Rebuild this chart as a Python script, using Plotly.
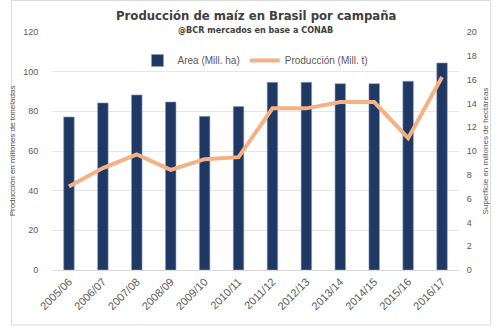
import plotly.graph_objects as go

campaigns = ["2005/06", "2006/07", "2007/08", "2008/09", "2009/10", "2010/11",
             "2011/12", "2012/13", "2013/14", "2014/15", "2015/16", "2016/17"]
area_mill_ha = [12.86, 14.04, 14.71, 14.12, 12.91, 13.73, 15.77, 15.77, 15.66, 15.66, 15.86, 17.4]
produccion_mill_t = [42.1, 51.4, 58.3, 50.5, 55.9, 56.9, 81.5, 81.5, 84.7, 84.7, 66.5, 97.3]

left_ticks = [0, 20, 40, 60, 80, 100, 120]
right_ticks = [0, 2, 4, 6, 8, 10, 12, 14, 16, 18, 20]

gray = "#595959"
W, H = 500, 326
L, R, T, B = 42, 35, 32, 56
plot_h = H - T - B
plot_w = W - L - R

fig = go.Figure()
fig.add_trace(go.Bar(
    x=campaigns, y=area_mill_ha, name="Area (Mill. ha)", yaxis="y",
    marker=dict(color="#203864", line=dict(color="#8FA0BF", width=0.6)),
))
fig.add_trace(go.Scatter(
    x=campaigns, y=produccion_mill_t, name="Producción (Mill. t)", mode="lines",
    yaxis="y2", line=dict(color="#F4B183", width=4),
))

# gridlines matching the left axis (every 20 of 120) expressed on the right scale
grid_right = [v * 20 / 120 for v in left_ticks]

fig.update_layout(
    width=W, height=H,
    margin=dict(l=L, r=R, t=T, b=B),
    paper_bgcolor="white", plot_bgcolor="white",
    bargap=0.69,
    font=dict(family="Liberation Sans", color=gray, size=9),
    showlegend=True,
    legend=dict(orientation="h", x=0.5, xanchor="center", y=0.88, yanchor="middle",
                font=dict(size=10, color=gray), bgcolor="rgba(0,0,0,0)",
                itemwidth=30, traceorder="normal"),
    xaxis=dict(tickangle=-45, tickfont=dict(size=11, color=gray), showgrid=False,
               showline=True, linecolor="#D9D9D9", ticks=""),
    yaxis=dict(range=[0, 20], tickvals=right_ticks, side="right",
               showgrid=False, zeroline=False, tickfont=dict(size=9, color=gray),
               ticks="outside", ticklen=5, tickcolor="white",
               minor=dict(tickvals=grid_right, showgrid=True, gridcolor="#E6E6E6", ticks=""),
               title=dict(text="Superficie en millones de hectáreas", font=dict(size=8, color=gray), standoff=6)),
    yaxis2=dict(range=[0, 120], tickvals=left_ticks, overlaying="y", side="left",
                showgrid=False, zeroline=False, tickfont=dict(size=9, color=gray),
                ticklen=11, ticks="outside", tickcolor="white",
                title=dict(text="Producción en millones de toneladas", font=dict(size=8, color=gray), standoff=6)),
    annotations=[
        dict(text="<b>Producción de maíz en Brasil por campaña</b>", x=0.5, y=(H - B - 15) / plot_h,
             xref="paper", yref="paper", showarrow=False, yanchor="middle",
             font=dict(family="DejaVu Sans Condensed, Roboto Condensed, Roboto", size=13, color="#404040")),
        dict(text="<b>@BCR mercados en base a CONAB</b>", x=0.5, y=(H - B - 30) / plot_h,
             xref="paper", yref="paper", showarrow=False, yanchor="middle",
             font=dict(family="DejaVu Sans Condensed, Roboto Condensed, Roboto", size=9, color="#404040")),
    ],
)
fig.add_shape(type="rect", xref="paper", yref="paper",
              x0=-L / plot_w, x1=1 + (R - 2) / plot_w, y0=-(B - 1) / plot_h, y1=1 + (T - 0.5) / plot_h,
              line=dict(color="#D9D9D9", width=1))
fig.write_html("out.html")
